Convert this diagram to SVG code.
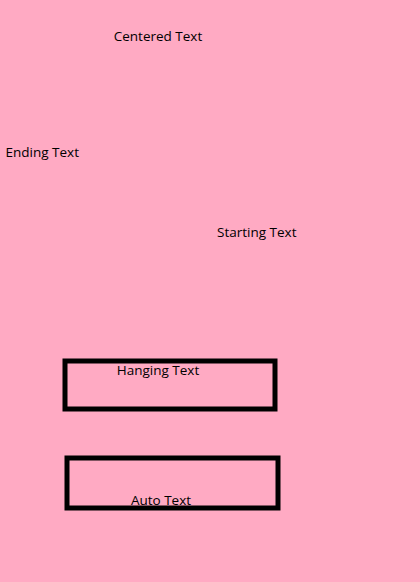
<svg xmlns="http://www.w3.org/2000/svg" width="420" height="582" viewBox="0 0 420 582">
<style>
text{font-family:"Open Sans","Liberation Sans",sans-serif;font-size:13.5px;fill:#000}
.box{fill:none;stroke:#000;stroke-width:5}
</style>
<rect x="0" y="0" width="420" height="582" fill="#FFAAC3"/>
<g id="centered"><text x="158" y="41" text-anchor="middle">Centered Text</text></g>
<g id="ending"><text x="79" y="157" text-anchor="end">Ending Text</text></g>
<g id="starting"><text x="217" y="237" text-anchor="start">Starting Text</text></g>
<g id="hanging"><rect class="box" x="65" y="361" width="210" height="48"/><text x="158" y="375" text-anchor="middle">Hanging Text</text></g>
<g id="auto"><rect class="box" x="67" y="458" width="211" height="50"/><text x="161" y="505" text-anchor="middle">Auto Text</text></g>
<g id="connectors"></g>
</svg>
